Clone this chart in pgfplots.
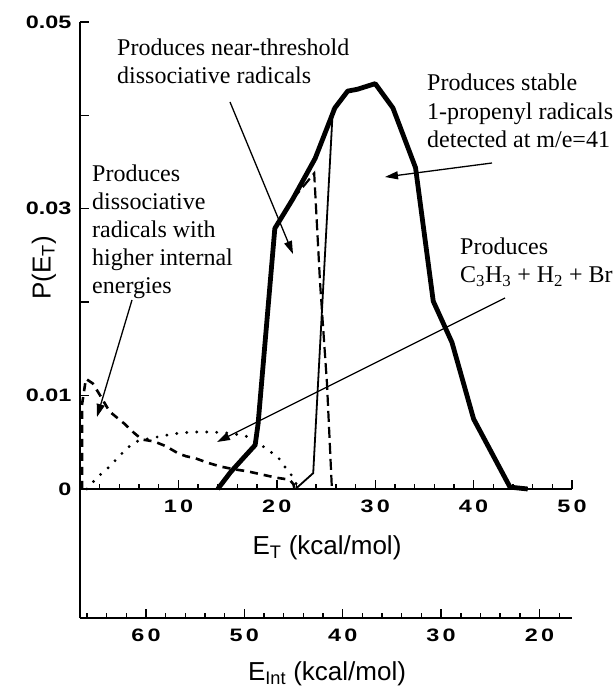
\documentclass[border=0pt]{standalone}
\usepackage{fontspec}
\setmainfont{Liberation Sans}
\newfontfamily\annfont{Liberation Serif}
\usepackage{graphicx}
\usepackage{pgfplots}
\pgfplotsset{compat=1.18}
\usetikzlibrary{arrows.meta}

% wide bold tick numbers
\newcommand\tl[1]{\scalebox{1.3}[1]{\fontsize{18}{18}\selectfont\bfseries #1}}
\newcommand\gp{\kern 2.5pt}
\newcommand\labsize{\fontsize{26}{26}\selectfont}

\begin{document}
\begin{tikzpicture}
\useasboundingbox (-80pt,-199pt) rectangle (535pt,489pt);

\begin{axis}[
    name=main,
    at={(0pt,0pt)}, anchor=south west,
    scale only axis,
    width=492pt, height=467pt,
    xmin=0, xmax=50, ymin=0, ymax=0.05,
    axis x line*=bottom, axis y line*=left,
    axis line style={line width=2.6pt},
    tick align=inside,
    major tick length=9pt, minor tick length=5pt,
    tick style={line width=1.4pt, black},
    scaled y ticks=false,
    xtick={10,20,30,40,50},
    xticklabels={\tl{1\gp 0},\tl{2\gp 0},\tl{3\gp 0},\tl{4\gp 0},\tl{5\gp 0}},
    minor xtick={2,4,...,48},
    ytick={0,0.01,0.02,0.03,0.04,0.05},
    yticklabels={\tl{0},\tl{0.01},,\tl{0.03},,\tl{0.05}},
    xticklabel style={yshift=-7pt},
    yticklabel style={xshift=-5pt},
    clip=false,
]

% total P(E_T)
\addplot[black, line width=4.8pt, line join=round] coordinates {
    (14,0)(15.3,0.0018)(16.5,0.0032)(17.8,0.0047)(18.1,0.007)(19.8,0.0279)
    (21.6,0.031)(23.9,0.0354)(25.9,0.0408)(27.2,0.0426)(28.2,0.0428)
    (30,0.0434)(31.8,0.0408)(34.1,0.0344)(35.9,0.0201)(37.8,0.0157)
    (40,0.0075)(43.7,0.0002)(45.5,0)
};

% stable radicals
\addplot[black, line width=1.8pt] coordinates {
    (21.9,0)(23.7,0.0017)(25.7,0.0408)
};

% near-threshold dissociative
\addplot[black, line width=2.2pt, dash pattern=on 11pt off 5pt] coordinates {
    (21.6,0.031)(23.8,0.0338)(24.4,0.022)(25.1,0.0113)(25.6,0)
};

% dissociative, higher internal energies
\addplot[black, line width=2.6pt, dash pattern=on 8pt off 6pt] coordinates {
    (0.2,0)(0.2,0.009)(0.6,0.0118)(1.3,0.0113)(2,0.0101)(3,0.0083)
    (4.5,0.007)(5.5,0.006)(6.3,0.0053)(7.5,0.0051)(8.7,0.0046)(10,0.0038)
    (10.8,0.0035)(11.7,0.0033)(13,0.0028)(14.3,0.0024)(15.7,0.0021)
    (17,0.0019)(18.7,0.0015)(20,0.0012)(21.3,0.001)(21.7,0.0005)(21.8,0)
};

% C3H3 + H2 + Br
\addplot[black, line width=3.2pt, line cap=round, dash pattern=on 0pt off 10pt] coordinates {
    (0.7,0)(1.7,0.0012)(2.8,0.0022)(3.8,0.0033)(4.8,0.0044)(5.8,0.0051)
    (7,0.0054)(8,0.0056)(9,0.0058)(10.2,0.006)(11.5,0.0061)(13.3,0.0061)
    (15,0.006)(16.8,0.0057)(17.8,0.0051)(19,0.0043)(20.2,0.0033)
    (20.8,0.0024)(21.7,0.0012)(22.2,0)
};
\end{axis}

\begin{axis}[
    at={(0pt,0pt)}, anchor=north west,
    scale only axis,
    width=492pt, height=129pt,
    xmin=16.7, xmax=66.7, x dir=reverse,
    ymin=0, ymax=1,
    axis x line*=bottom, axis y line*=left,
    axis line style={line width=2.6pt},
    tick align=inside,
    major tick length=9pt, minor tick length=5pt,
    tick style={line width=1.4pt, black},
    xtick={20,30,40,50,60},
    xticklabels={\tl{2\gp 0},\tl{3\gp 0},\tl{4\gp 0},\tl{5\gp 0},\tl{6\gp 0}},
    minor xtick={18,20,...,66},
    ytick=\empty,
    xticklabel style={yshift=-7pt},
]
\end{axis}

% axis titles
\node[rotate=90] at (-36pt,221pt) {\labsize P(E\textsubscript{T})};
\node at (247pt,-59pt) {\labsize E\textsubscript{T} (kcal/mol)};
\node at (247pt,-185pt) {\labsize E\textsubscript{Int} (kcal/mol)};

% annotations
\begin{scope}[every node/.style={anchor=base west, inner sep=0pt, font=\annfont\fontsize{24}{28}\selectfont}]
\node at (37pt,433pt) {Produces near-threshold};
\node at (37pt,405pt) {dissociative radicals};
\node at (12pt,307pt) {Produces};
\node at (12pt,279pt) {dissociative};
\node at (12pt,251pt) {radicals with};
\node at (12pt,223pt) {higher internal};
\node at (12pt,195pt) {energies};
\node at (347pt,398pt) {Produces stable};
\node at (347pt,369pt) {1-propenyl radicals};
\node at (347pt,341pt) {detected at m/e=41};
\node at (380pt,234pt) {Produces};
\node at (380pt,206pt) {C\textsubscript{3}H\textsubscript{3} + H\textsubscript{2} + Br};
\end{scope}

\begin{scope}[line width=1.3pt, -{Triangle[length=13pt,width=8pt]}]
\draw (150pt,387pt) -- (213pt,235pt);
\draw (52pt,189pt) -- (17pt,72pt);
\draw (412pt,326pt) -- (305pt,312pt);
\draw (425pt,191pt) -- (137pt,47pt);
\end{scope}
\end{tikzpicture}
\end{document}
